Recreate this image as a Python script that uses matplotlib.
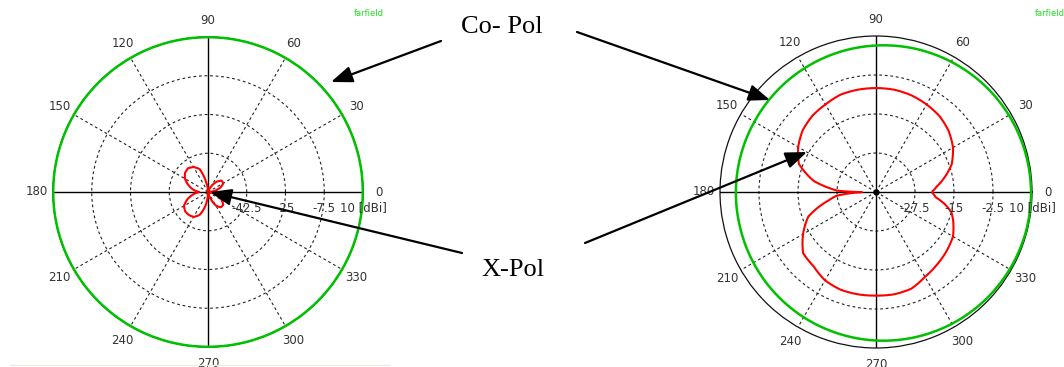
import matplotlib
matplotlib.use('Agg')
import matplotlib.pyplot as plt
from matplotlib.path import Path
from matplotlib.patches import PathPatch
import numpy as np

# left plot: co-pol / x-pol, scale -60 .. 10 dBi
left_co_angles = [0, 15, 30, 45, 60, 75, 90, 105, 120, 135, 150, 165, 180, 195, 210, 225, 240, 255,
                  270, 285, 300, 315, 330, 345, 360]
left_co_db = [9.9, 9.9, 9.9, 9.9, 9.9, 9.9, 9.9, 9.9, 9.9, 9.9, 9.9, 9.9, 9.9, 9.9, 9.9, 9.9, 9.9, 9.9,
              9.9, 9.9, 9.9, 9.9, 9.9, 9.9, 9.9]
left_x_angles = [0, 10, 20, 30, 40, 50, 60, 70, 80, 90, 100, 110, 120, 130, 140, 150, 160, 170, 180,
                 190, 200, 210, 220, 230, 240, 250, 260, 270, 280, 290, 300, 310, 320, 330, 340, 350, 360]
left_x_db = [-60, -57, -54, -52, -52, -54, -57, -60, -60, -60, -56, -49, -47, -46, -46.5, -48, -50.5, -53, -56,
             -53, -50, -47.5, -46.5, -46.5, -47, -49, -54, -60, -60, -57, -53, -51, -51, -53, -56, -59, -60]
left_rings = [-42.5, -25, -7.5]
left_ring_labels = ['-42.5', '-25', '-7.5', '10 [dBi]']

# right plot, scale -40 .. 10 dBi
right_co_angles = [0, 15, 30, 45, 60, 75, 90, 105, 120, 135, 150, 165, 180, 195, 210, 225, 240, 255,
                   270, 285, 300, 315, 330, 345, 360]
right_co_db = [9.7, 9.5, 9.2, 8.75, 8.2, 7.6, 6.95, 6.35, 5.8, 5.35, 5.0, 4.9, 4.9, 5.0, 5.35, 5.8, 6.35, 6.95,
               7.6, 8.2, 8.75, 9.2, 9.5, 9.7, 9.7]
right_x_angles = [0, 5, 10, 20, 30, 40, 50, 60, 70, 80, 90, 100, 110, 120, 130, 140, 150, 160, 170, 175,
                  178, 180.5, 185.5, 190, 200, 210, 220, 230, 240, 250, 260, 270, 280, 290, 300, 310, 320,
                  330, 340, 345, 350, 355, 360]
right_x_db = [-22.1, -20.5, -18.4, -14.2, -11.5, -9.6, -8.3, -7.6, -7.0, -6.7, -6.7, -6.7, -6.8, -7.6, -8.2,
              -9.3, -11.2, -13.7, -19.8, -24.8, -27.6, -35.5, -27.3, -24.6, -16.9, -13.0, -9.5, -8.9, -7.3,
              -6.7, -6.7, -6.8, -6.7, -7.0, -8.6, -9.6, -10.5, -11.5, -13.7, -15.0, -17.6, -20.8, -22.1]
right_rings = [-27.5, -15, -2.5]
right_ring_labels = ['-27.5', '-15', '-2.5', '10 [dBi]']

theta_labels = [0, 30, 60, 90, 120, 150, 180, 210, 240, 270, 300, 330]

GREEN = '#00c000'
RED = '#ff0000'
LABEL_COLOR = '#333333'


def polar_curve(ax, angles, db, color, lw):
    # PathPatch in data space so the polar transform bends each segment along theta
    verts = np.column_stack([np.radians(angles), db])
    path = Path(verts, _interpolation_steps=16)
    ax.add_patch(PathPatch(path, fill=False, edgecolor=color, lw=lw, zorder=4, clip_on=False,
                           joinstyle='round'))


def polar_panel(fig, rect, rmin, rings, ring_labels, co_ang, co_db, x_ang, x_db, center_dot):
    ax = fig.add_axes(rect, projection='polar')
    ax.set_theta_zero_location('E')
    ax.set_ylim(rmin, 10)
    ax.set_yticks(rings)
    ax.set_yticklabels([])
    ax.set_xticks(np.radians([30, 60, 120, 150, 210, 240, 300, 330]))
    ax.set_xticklabels([])
    ax.tick_params(length=0)
    ax.grid(True, color='#222222', linestyle=(0, (2.5, 2.5)), linewidth=0.8)
    ax.spines['polar'].set_color('#111111')
    ax.spines['polar'].set_linewidth(0.9)
    for a in [0, 90, 180, 270]:
        ax.axvline(np.radians(a), color='black', lw=1.0, zorder=2)

    polar_curve(ax, co_ang, co_db, GREEN, 1.8)
    polar_curve(ax, x_ang, x_db, RED, 1.5)
    if center_dot:
        ax.plot(0, rmin, 'o', color='black', ms=3.5, zorder=5)

    for a in theta_labels:
        t = np.radians(a)
        ax.text(0.5 + 0.552 * np.cos(t), 0.5 + 0.552 * np.sin(t), str(a), transform=ax.transAxes,
                ha='center', va='center', fontsize=8.5, color=LABEL_COLOR)
    for r, lab in zip(rings + [10], ring_labels):
        ax.annotate(lab, xy=(0, r), xytext=(0, -16), textcoords='offset pixels',
                    ha='center', va='center', fontsize=8.5, color=LABEL_COLOR, zorder=6)
    return ax


fig = plt.figure(figsize=(10.64, 3.67), dpi=100)
W, H = 1064.0, 367.0

polar_panel(fig, [53 / W, (H - 347) / H, 310 / W, 310 / H], -60, left_rings, left_ring_labels,
            left_co_angles, left_co_db, left_x_angles, left_x_db, False)
polar_panel(fig, [720 / W, (H - 348) / H, 312 / W, 312 / H], -40, right_rings, right_ring_labels,
            right_co_angles, right_co_db, right_x_angles, right_x_db, True)

# small green caption cut at the top edge
fig.text(354 / W, 1 - 16 / H, 'farfield', color='#22dd22', fontsize=6, va='baseline')
fig.text(1035 / W, 1 - 16 / H, 'farfield', color='#22dd22', fontsize=6, va='baseline')

# overlay in pixel coordinates for the callouts
over = fig.add_axes([0, 0, 1, 1], zorder=10)
over.set_xlim(0, W)
over.set_ylim(H, 0)
over.axis('off')
over.patch.set_alpha(0)

over.plot([10, 390], [365, 365], color='#ecece0', lw=1)

over.text(502, 27, 'Co- Pol', ha='center', va='center', fontsize=19, family='Liberation Serif')
over.text(513, 270, 'X-Pol', ha='center', va='center', fontsize=19, family='Liberation Serif')

arrows = [((441, 41), (331, 82)),
          ((577, 32), (770, 100)),
          ((585, 243), (807, 152)),
          ((462, 253), (210, 192))]
for start, tip in arrows:
    over.annotate('', xy=tip, xytext=start,
                  arrowprops=dict(arrowstyle='-|>,head_length=1.3,head_width=0.5', mutation_scale=10,
                                  lw=1.6, color='black', shrinkA=0, shrinkB=0))

fig.savefig('out.png', dpi=100)
